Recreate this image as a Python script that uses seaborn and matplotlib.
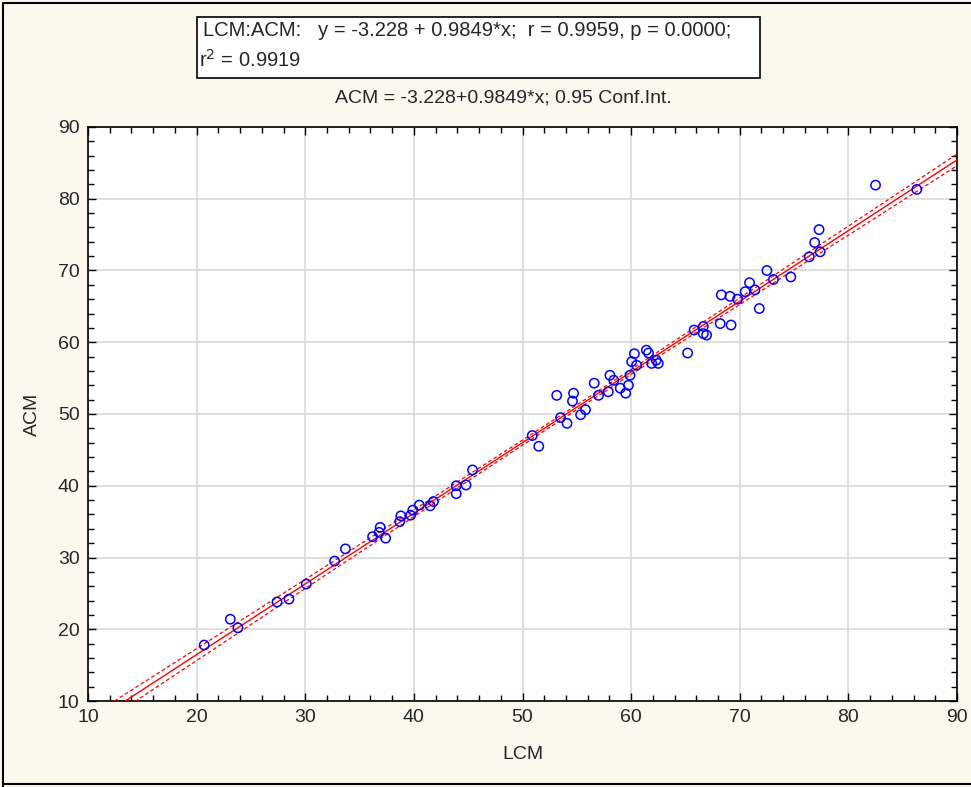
import numpy as np
import pandas as pd
import matplotlib
matplotlib.use("Agg")
import matplotlib.pyplot as plt
import seaborn as sns
from matplotlib.patches import Rectangle
from matplotlib.lines import Line2D

# ---- data ----
lcm = [20.7, 23.1, 23.8, 27.4, 28.5, 30.1, 32.7, 33.7, 36.2, 36.9, 37.4, 36.8,
       38.8, 38.7, 39.7, 39.9, 40.5, 41.5, 41.8, 43.9, 43.9, 44.8, 45.4,
       50.9, 51.5, 53.15, 53.5, 54.1, 54.7, 54.6, 55.35, 55.8, 56.6, 57.0,
       57.9, 58.05, 58.4, 59.0, 59.5, 59.75, 59.9, 60.05, 60.3, 60.5, 61.4,
       61.6, 61.9, 62.3, 62.5, 65.2, 65.8, 66.65, 66.65, 66.95, 68.2, 69.2,
       71.8, 68.3, 69.1, 69.8, 70.5, 70.9, 71.4, 72.5, 73.1, 74.7, 76.4,
       76.9, 77.3, 77.4, 82.5, 86.3]
acm = [17.8, 21.4, 20.2, 23.8, 24.2, 26.3, 29.5, 31.2, 32.9, 34.2, 32.7, 33.5,
       35.8, 35.0, 35.9, 36.6, 37.3, 37.2, 37.8, 40.0, 38.9, 40.1, 42.2,
       47.0, 45.5, 52.6, 49.5, 48.7, 52.9, 51.8, 49.9, 50.6, 54.3, 52.6,
       53.1, 55.4, 54.7, 53.6, 52.9, 54.0, 55.4, 57.3, 58.4, 56.8, 58.9,
       58.5, 57.05, 57.5, 57.05, 58.5, 61.7, 62.2, 61.2, 61.0, 62.6, 62.4,
       64.7, 66.6, 66.4, 66.0, 67.05, 68.3, 67.3, 70.0, 68.75, 69.1, 71.9,
       73.9, 75.7, 72.6, 81.9, 81.3]
intercept = -3.228
slope = 0.9849
x_ticks = [10, 20, 30, 40, 50, 60, 70, 80, 90]
y_ticks = [10, 20, 30, 40, 50, 60, 70, 80, 90]

sns.set_style("white")
plt.rcParams['font.family'] = ['Liberation Sans', 'DejaVu Sans']

df = pd.DataFrame({"LCM": lcm, "ACM": acm})

fig = plt.figure(figsize=(9.71, 7.87), dpi=100)
fig.patch.set_facecolor("#fdf8ee")
ax = fig.add_axes([88/971, 1-701/787, (957-88)/971, (701-127)/787])
ax.set_facecolor("white")

# regression line and 95% confidence limits
xs = np.linspace(10, 90, 300)
x = np.asarray(lcm); y = np.asarray(acm)
n = len(x)
resid = y - (intercept + slope*x)
s = np.sqrt(np.sum(resid**2)/(n-2))
sxx = np.sum((x - x.mean())**2)
se = s*np.sqrt(1/n + (xs - x.mean())**2/sxx)
t = 1.994
fit = intercept + slope*xs
line_df = pd.DataFrame({"x": xs, "fit": fit, "lo": fit - t*se, "hi": fit + t*se})

sns.lineplot(data=line_df, x="x", y="fit", ax=ax, color="red", lw=1.0, zorder=3)
sns.lineplot(data=line_df, x="x", y="lo", ax=ax, color="red", lw=0.9,
             linestyle=(0, (3, 2)), zorder=3)
sns.lineplot(data=line_df, x="x", y="hi", ax=ax, color="red", lw=0.9,
             linestyle=(0, (3, 2)), zorder=3)

sns.scatterplot(data=df, x="LCM", y="ACM", ax=ax, marker="o", s=45,
                facecolor="none", edgecolor="blue", linewidth=1.1, zorder=4)

ax.set_xlim(10, 90)
ax.set_ylim(10, 90)
ax.set_xticks(x_ticks)
ax.set_yticks(y_ticks)
ax.set_xticks(np.arange(10, 91, 2), minor=True)
ax.set_yticks(np.arange(10, 91, 2), minor=True)
ax.grid(True, which="major", color="#d9d9d9", lw=1.2)
ax.set_axisbelow(True)
for sp in ax.spines.values():
    sp.set_visible(True)
    sp.set_color("black")
    sp.set_linewidth(1.2)
ax.tick_params(which="both", direction="in", top=True, right=True,
               bottom=True, left=True, color="black")
ax.tick_params(which="major", length=6, width=1, labelsize=14, pad=6)
ax.tick_params(which="minor", length=4, width=1)
ax.set_xlabel("LCM", fontsize=14, labelpad=14)
ax.set_ylabel("ACM", fontsize=14, labelpad=12)

fig.text(503/971, 1-98/787, "ACM = -3.228+0.9849*x; 0.95 Conf.Int.",
         ha="center", va="center", fontsize=14)

# statistics box
fig.patches.append(Rectangle((197/971, 1-78/787), (760-197)/971, (78-17)/787,
                             transform=fig.transFigure, facecolor="white",
                             edgecolor="black", lw=1.2))
fig.text(203/971, 1-31/787,
         "LCM:ACM:   y = -3.228 + 0.9849*x;  r = 0.9959, p = 0.0000;",
         ha="left", va="center", fontsize=14.5)
fig.text(199/971, 1-60/787, "r$^2$ = 0.9919", ha="left", va="center", fontsize=14.5)

# outer border (left, top, bottom)
for xy in [([3/971, 3/971], [0, 1-3/787]), ([3/971, 1], [1-3/787, 1-3/787]),
           ([3/971, 1], [3/787, 3/787])]:
    fig.lines.append(Line2D(xy[0], xy[1], transform=fig.transFigure,
                            color="black", lw=1.5))

fig.savefig("out.png", dpi=100, facecolor=fig.get_facecolor())
